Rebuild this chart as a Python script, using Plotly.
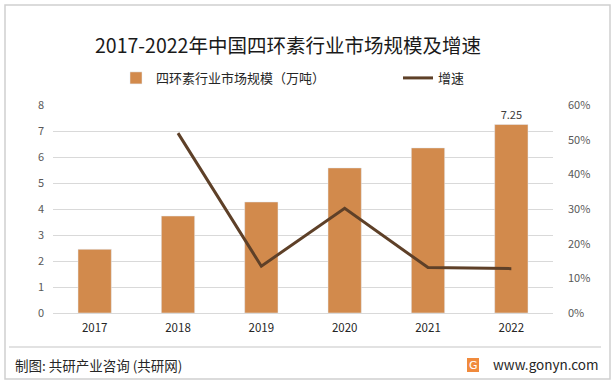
import plotly.graph_objects as go

years = ["2017", "2018", "2019", "2020", "2021", "2022"]
market_size = [2.45, 3.73, 4.27, 5.58, 6.35, 7.25]
growth = [None, 0.519, 0.135, 0.302, 0.131, 0.128]
bar_labels = ["", "", "", "", "", "7.25"]
left_ticks = [0, 1, 2, 3, 4, 5, 6, 7, 8]
right_ticks = [0, 0.1, 0.2, 0.3, 0.4, 0.5, 0.6]

FONT = "Noto Sans CJK SC"
BAR_C = "#D28A4C"
LINE_C = "#5E4028"

fig = go.Figure()
fig.add_trace(go.Bar(
    x=years, y=market_size, name="四环素行业市场规模（万吨）",
    marker_color=BAR_C, width=0.4,
    text=bar_labels, textposition="outside",
    textfont=dict(size=11, color="#404040", family=FONT),
    cliponaxis=False, legend="legend",
))
fig.add_trace(go.Scatter(
    x=years, y=growth, name="增速", yaxis="y2", mode="lines",
    line=dict(color=LINE_C, width=3), legend="legend2",
))

legend_common = dict(orientation="h", y=1.13, yanchor="middle", xanchor="left",
                     font=dict(size=13, color="#262626", family=FONT),
                     bgcolor="rgba(0,0,0,0)", itemwidth=30, tracegroupgap=0)

fig.update_layout(
    width=614, height=385,
    margin=dict(l=53, r=61, t=105, b=72),
    paper_bgcolor="white", plot_bgcolor="white",
    font=dict(family=FONT, color="#595959", size=11),
    title=dict(text="2017-2022年中国四环素行业市场规模及增速",
               x=0.469, xanchor="center", y=1 - 46 / 385, yanchor="middle",
               font=dict(size=19.5, color="#1a1a1a", family=FONT)),
    legend=dict(x=(116 - 53) / 500, **legend_common),
    legend2=dict(x=(398 - 53) / 500, **legend_common),
    xaxis=dict(showgrid=False, showline=True, linecolor="#D9D9D9", ticks="",
               tickfont=dict(size=11.5, color="#262626"), ticklabelstandoff=4),
    yaxis=dict(range=[0, 8], tickvals=left_ticks, showgrid=True, gridcolor="#D9D9D9",
               gridwidth=1, zeroline=False, showline=False,
               tickfont=dict(size=11, color="#595959"), ticklabelstandoff=8),
    yaxis2=dict(range=[0, 0.6], tickvals=right_ticks, tickformat=".0%", overlaying="y",
                side="right", showgrid=False, zeroline=False, showline=False,
                tickfont=dict(size=11, color="#595959"), ticklabelstandoff=14),
    bargap=0.6,
    showlegend=True,
)

# outer border
fig.add_shape(type="rect", xref="paper", yref="paper",
              x0=-48 / 500, x1=557 / 500, y0=(313 - 379) / 208, y1=(313 - 5) / 208,
              line=dict(color="#D0D0D0", width=1.5), fillcolor="rgba(0,0,0,0)", layer="below")
# footer separator
fig.add_shape(type="line", xref="paper", yref="paper",
              x0=-44 / 500, x1=548 / 500, y0=(313 - 347) / 208, y1=(313 - 347) / 208,
              line=dict(color="#D9D9D9", width=1.5))
# logo
fig.add_shape(type="rect", xref="paper", yref="paper",
              x0=(467 - 53) / 500, x1=(479 - 53) / 500, y0=(313 - 372) / 208, y1=(313 - 358) / 208,
              line=dict(width=0), fillcolor="#F08A3C")
fig.add_annotation(text="G", xref="paper", yref="paper",
                   x=(473 - 53) / 500, y=(313 - 365) / 208, showarrow=False,
                   xanchor="center", yanchor="middle",
                   font=dict(size=11, color="white", family="DejaVu Sans"))
fig.add_annotation(text="制图: 共研产业咨询 (共研网)", xref="paper", yref="paper",
                   x=(13 - 53) / 500, y=(313 - 365) / 208, xanchor="left", yanchor="middle",
                   showarrow=False, font=dict(size=13.5, color="#262626", family=FONT))
fig.add_annotation(text="www.gonyn.com", xref="paper", yref="paper",
                   x=(601 - 53) / 500, y=(313 - 364) / 208, xanchor="right", yanchor="middle",
                   showarrow=False, font=dict(size=13.5, color="#262626", family=FONT))

fig.write_html("out.html", config={"displayModeBar": False},
               post_script="document.body.style.margin='0';document.body.style.overflow='hidden';")
